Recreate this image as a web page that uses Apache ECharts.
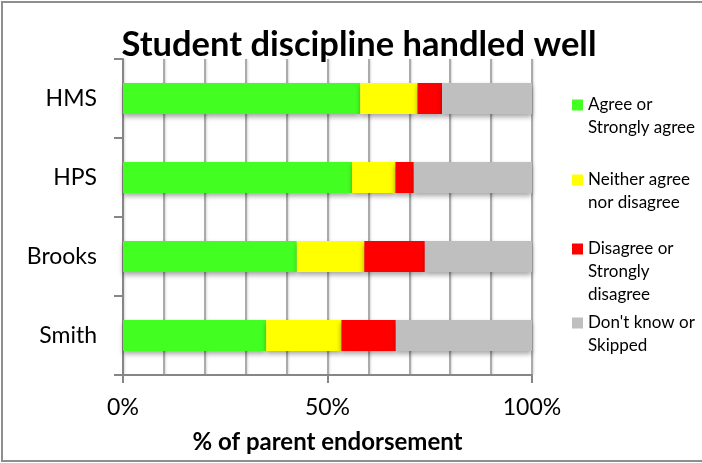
<!DOCTYPE html>
<html>
<head>
<meta charset="utf-8">
<script src="https://cdn.jsdelivr.net/npm/echarts@6/dist/echarts.min.js"></script>
<style>
html,body{margin:0;padding:0;background:#fff;}
#chart{width:702px;height:463px;}
</style>
</head>
<body>
<div id="chart"></div>
<script>
var categories = ['HMS', 'HPS', 'Brooks', 'Smith'];
var seriesNames = ['Agree or Strongly agree', 'Neither agree nor disagree', 'Disagree or Strongly disagree', "Don't know or Skipped"];
var legendLabels = ['Agree or\nStrongly agree', 'Neither agree\nnor disagree', 'Disagree or\nStrongly\ndisagree', "Don't know or\nSkipped"];
var agree = [58, 56, 42.5, 35];
var neither = [14, 10.6, 16.5, 18.4];
var disagree = [6, 4.5, 14.8, 13.3];
var dontKnow = [22, 28.9, 26.2, 33.3];
var xTickLabels = ['0%', '50%', '100%'];
var colors = ['#43FF21', '#FFFF00', '#FF0000', '#BFBFBF'];

var FONT = 'Lato';
var values = [agree, neither, disagree, dontKnow];
var legendTops = [70.5, 145.5, 191.5, 288.5];

var series = seriesNames.map(function (n, i) {
  return {
    name: n,
    type: 'bar',
    stack: 'total',
    barWidth: 31,
    xAxisIndex: 0,
    data: values[i],
    itemStyle: {
      color: colors[i],
      shadowColor: 'rgba(0,0,0,0.35)',
      shadowBlur: 5,
      shadowOffsetY: 3
    },
    emphasis: { disabled: true }
  };
});

var legends = seriesNames.map(function (n, i) {
  var lines = legendLabels[i].split('\n');
  var pad = '';
  for (var k = 0; k < lines.length - 1; k++) pad += '\n';
  return {
    data: [n],
    orient: 'vertical',
    left: 572,
    top: legendTops[i],
    padding: 0,
    itemWidth: 11,
    itemHeight: 11,
    icon: 'rect',
    selectedMode: false,
    formatter: function () { return pad + legendLabels[i]; },
    textStyle: { fontFamily: FONT, fontSize: 17, lineHeight: 23, color: '#000' }
  };
});

var chart = echarts.init(document.getElementById('chart'), null, { renderer: 'canvas' });
chart.setOption({
  animation: false,
  backgroundColor: '#fff',
  title: {
    text: 'Student discipline handled well',
    left: 354,
    top: 22,
    textAlign: 'center',
    textStyle: { fontFamily: FONT, fontSize: 34.5, fontWeight: 'bold', color: '#000' }
  },
  legend: legends,
  grid: { left: 123, right: 170, top: 59, bottom: 88 },
  xAxis: [{
    type: 'value',
    min: 0, max: 100, interval: 50,
    axisLine: { show: true, lineStyle: { color: '#868686', width: 2 } },
    axisTick: { show: true, length: 8, lineStyle: { color: '#868686', width: 2 } },
    axisLabel: {
      margin: 21,
      fontFamily: FONT, fontSize: 23, color: '#000',
      formatter: function (v) { return xTickLabels[Math.round(v / 50)]; }
    },
    splitLine: { show: false },
    name: '% of parent endorsement',
    nameLocation: 'middle',
    nameGap: 55,
    nameTextStyle: { fontFamily: FONT, fontSize: 24, fontWeight: 'bold', color: '#000' }
  }, {
    type: 'value',
    min: 0, max: 100, interval: 10,
    position: 'bottom',
    axisLine: { show: false },
    axisTick: { show: false },
    axisLabel: { show: false },
    splitLine: { show: true, lineStyle: { color: '#ABABAB', width: 2, shadowColor: 'rgba(0,0,0,0.15)', shadowBlur: 2, shadowOffsetX: 1 } }
  }],
  yAxis: {
    type: 'category',
    data: categories,
    inverse: true,
    axisLine: { show: true, lineStyle: { color: '#868686', width: 2 } },
    axisTick: { show: true, length: 9, lineStyle: { color: '#868686', width: 2 } },
    axisLabel: { margin: 26, fontFamily: FONT, fontSize: 23, color: '#000' },
    splitLine: { show: false }
  },
  graphic: [{
    type: 'rect',
    shape: { x: 2, y: 2, width: 702, height: 459 },
    style: { fill: 'none', stroke: '#8E8E8E', lineWidth: 2 },
    silent: true,
    z: 100
  }],
  series: series
});
</script>
</body>
</html>
